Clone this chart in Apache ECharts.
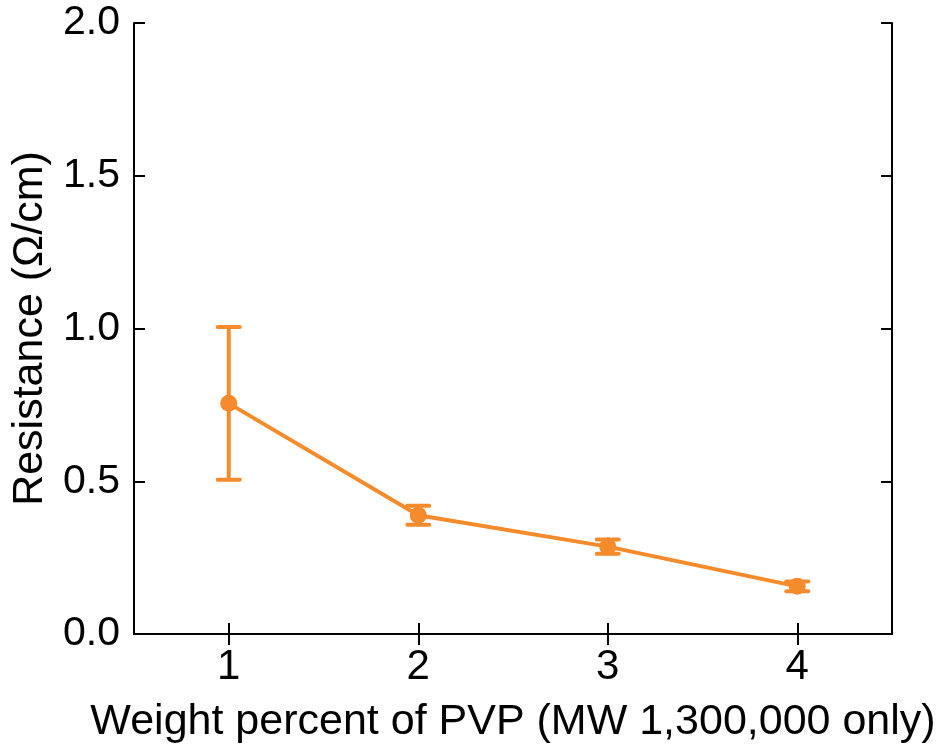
<!DOCTYPE html>
<html>
<head>
<meta charset="utf-8">
<script src="https://cdn.jsdelivr.net/npm/echarts@6/dist/echarts.min.js"></script>
<style>
  html, body { margin: 0; padding: 0; background: #fff; }
  #chart { width: 940px; height: 750px; }
</style>
</head>
<body>
<div id="chart"></div>
<script>
// Weight percent categories and measured resistance with standard deviation
const categories = ['1', '2', '3', '4'];
const resistance = [0.755, 0.389, 0.286, 0.156];
const errors = [0.25, 0.031, 0.023, 0.016];
const yTicks = [0, 0.5, 1.0, 1.5, 2.0];

const ORANGE = '#F68B2C';
const FONT = 'Liberation Sans, Arial, sans-serif';

const errData = resistance.map((v, i) => [i, v - errors[i], v + errors[i]]);

const chart = echarts.init(document.getElementById('chart'));

const tickStyle = { show: true, inside: true, length: 11, lineStyle: { color: '#000', width: 2 } };
const lineStyle = { color: '#000', width: 2 };

chart.setOption({
  animation: false,
  backgroundColor: '#fff',
  grid: { left: 134, right: 48, top: 23, bottom: 116, containLabel: false },
  xAxis: [
    {
      type: 'category',
      data: categories,
      boundaryGap: true,
      position: 'bottom',
      axisLine: { show: true, lineStyle },
      axisTick: Object.assign({ alignWithLabel: true }, tickStyle),
      axisLabel: { color: '#000', fontSize: 42, fontFamily: FONT, margin: 12 },
      name: 'Weight percent of PVP (MW 1,300,000 only)',
      nameLocation: 'middle',
      nameGap: 67,
      nameTextStyle: { color: '#000', fontSize: 43, fontFamily: FONT },
      splitLine: { show: false }
    },
    {
      type: 'category',
      data: categories,
      boundaryGap: true,
      position: 'top',
      axisLine: { show: true, lineStyle },
      axisTick: Object.assign({ alignWithLabel: true }, tickStyle),
      axisLabel: { show: false },
      splitLine: { show: false }
    }
  ],
  yAxis: [
    {
      type: 'value',
      min: yTicks[0],
      max: yTicks[yTicks.length - 1],
      interval: 0.5,
      position: 'left',
      axisLine: { show: true, lineStyle },
      axisTick: tickStyle,
      axisLabel: {
        color: '#000', fontSize: 41, fontFamily: FONT, margin: 14,
        formatter: v => v.toFixed(1)
      },
      name: 'Resistance (Ω/cm)',
      nameLocation: 'middle',
      nameGap: 78,
      nameTextStyle: { color: '#000', fontSize: 43, fontFamily: FONT },
      splitLine: { show: false }
    },
    {
      type: 'value',
      min: yTicks[0],
      max: yTicks[yTicks.length - 1],
      interval: 0.5,
      position: 'right',
      axisLine: { show: true, lineStyle },
      axisTick: tickStyle,
      axisLabel: { show: false },
      splitLine: { show: false }
    }
  ],
  series: [
    {
      type: 'custom',
      xAxisIndex: 0,
      yAxisIndex: 0,
      data: errData,
      z: 3,
      renderItem: function (params, api) {
        const i = api.value(0);
        const lo = api.coord([i, api.value(1)]);
        const hi = api.coord([i, api.value(2)]);
        const half = 11;
        const style = { stroke: ORANGE, lineWidth: 4, fill: null, lineCap: 'round' };
        return {
          type: 'group',
          children: [
            { type: 'line', shape: { x1: hi[0], y1: hi[1], x2: lo[0], y2: lo[1] }, style },
            { type: 'line', shape: { x1: hi[0] - half, y1: hi[1], x2: hi[0] + half, y2: hi[1] }, style },
            { type: 'line', shape: { x1: lo[0] - half, y1: lo[1], x2: lo[0] + half, y2: lo[1] }, style }
          ]
        };
      }
    },
    {
      type: 'line',
      xAxisIndex: 0,
      yAxisIndex: 0,
      data: resistance,
      z: 4,
      symbol: 'circle',
      symbolSize: 17,
      lineStyle: { color: ORANGE, width: 4 },
      itemStyle: { color: ORANGE }
    }
  ]
});
</script>
</body>
</html>
